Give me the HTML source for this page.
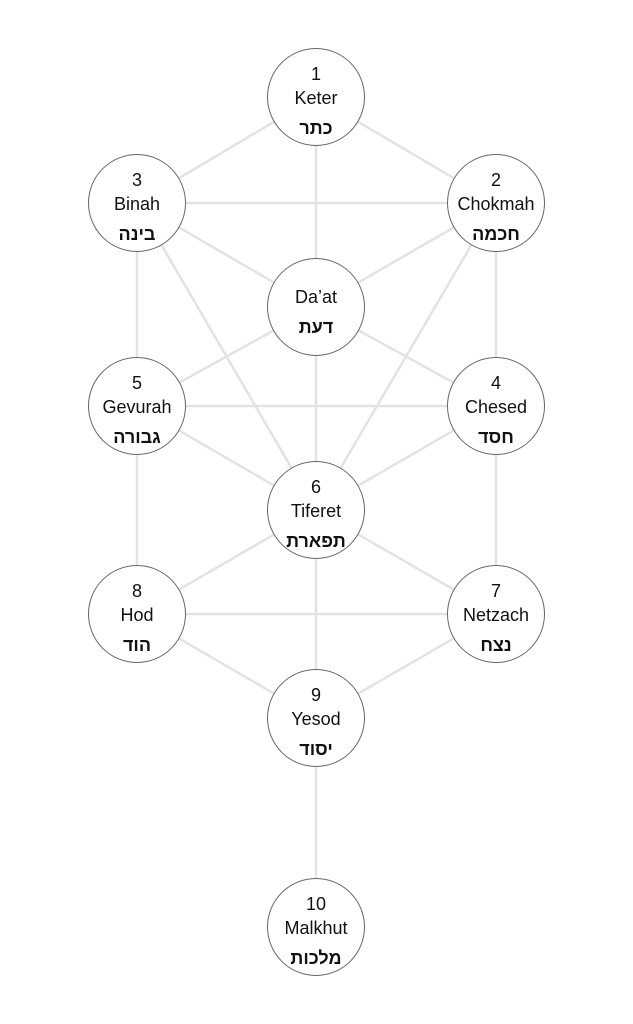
<!DOCTYPE html>
<html><head><meta charset="utf-8"><style>
html,body{margin:0;padding:0;background:#fff;}
svg{display:block;}
text{font-family:"Liberation Sans","DejaVu Sans",sans-serif;text-anchor:middle;fill:#111;}
.n{font-size:18px;}
.h{font-size:18px;font-weight:bold;font-family:"Liberation Sans","DejaVu Sans",sans-serif;}
</style></head><body>
<svg width="633" height="1024" viewBox="0 0 633 1024" xmlns="http://www.w3.org/2000/svg">
<rect width="633" height="1024" fill="#fff"/>
<g stroke="#e3e3e3" stroke-width="2.5">
<line x1="316" y1="97" x2="137" y2="203"/>
<line x1="316" y1="97" x2="496" y2="203"/>
<line x1="316" y1="97" x2="316" y2="307"/>
<line x1="137" y1="203" x2="496" y2="203"/>
<line x1="137" y1="203" x2="316" y2="307"/>
<line x1="496" y1="203" x2="316" y2="307"/>
<line x1="137" y1="203" x2="137" y2="406"/>
<line x1="496" y1="203" x2="496" y2="406"/>
<line x1="137" y1="203" x2="316" y2="510"/>
<line x1="496" y1="203" x2="316" y2="510"/>
<line x1="316" y1="307" x2="137" y2="406"/>
<line x1="316" y1="307" x2="496" y2="406"/>
<line x1="316" y1="307" x2="316" y2="510"/>
<line x1="137" y1="406" x2="496" y2="406"/>
<line x1="137" y1="406" x2="316" y2="510"/>
<line x1="496" y1="406" x2="316" y2="510"/>
<line x1="137" y1="406" x2="137" y2="614"/>
<line x1="496" y1="406" x2="496" y2="614"/>
<line x1="316" y1="510" x2="137" y2="614"/>
<line x1="316" y1="510" x2="496" y2="614"/>
<line x1="316" y1="510" x2="316" y2="718"/>
<line x1="137" y1="614" x2="496" y2="614"/>
<line x1="137" y1="614" x2="316" y2="718"/>
<line x1="496" y1="614" x2="316" y2="718"/>
<line x1="316" y1="718" x2="316" y2="927"/>
</g>
<g fill="#fff" stroke="#666" stroke-width="1">
<circle cx="316" cy="97" r="48.5"/>
<circle cx="137" cy="203" r="48.5"/>
<circle cx="496" cy="203" r="48.5"/>
<circle cx="316" cy="307" r="48.5"/>
<circle cx="137" cy="406" r="48.5"/>
<circle cx="496" cy="406" r="48.5"/>
<circle cx="316" cy="510" r="48.5"/>
<circle cx="137" cy="614" r="48.5"/>
<circle cx="496" cy="614" r="48.5"/>
<circle cx="316" cy="718" r="48.5"/>
<circle cx="316" cy="927" r="48.5"/>
</g>
<g class="n">
<text x="316" y="80">1</text><text x="316" y="104">Keter</text>
<text x="137" y="186">3</text><text x="137" y="210">Binah</text>
<text x="496" y="186">2</text><text x="496" y="210">Chokmah</text>
<text x="316" y="303">Da’at</text>
<text x="137" y="389">5</text><text x="137" y="413">Gevurah</text>
<text x="496" y="389">4</text><text x="496" y="413">Chesed</text>
<text x="316" y="493">6</text><text x="316" y="517">Tiferet</text>
<text x="137" y="597">8</text><text x="137" y="621">Hod</text>
<text x="496" y="597">7</text><text x="496" y="621">Netzach</text>
<text x="316" y="701">9</text><text x="316" y="725">Yesod</text>
<text x="316" y="910">10</text><text x="316" y="934">Malkhut</text>
</g>
<g class="h" direction="rtl">
<text class="h" x="316" y="134">כתר</text>
<text class="h" x="137" y="240">בינה</text>
<text class="h" x="496" y="240">חכמה</text>
<text class="h" x="316" y="333">דעת</text>
<text class="h" x="137" y="443">גבורה</text>
<text class="h" x="496" y="443">חסד</text>
<text class="h" x="316" y="547">תפארת</text>
<text class="h" x="137" y="651">הוד</text>
<text class="h" x="496" y="651">נצח</text>
<text class="h" x="316" y="755">יסוד</text>
<text class="h" x="316" y="964">מלכות</text>
</g>
</svg>
</body></html>
